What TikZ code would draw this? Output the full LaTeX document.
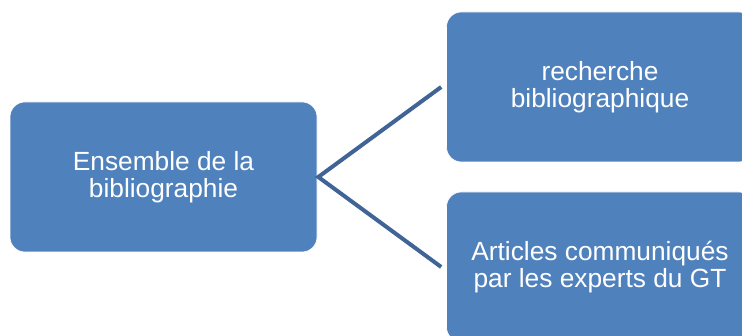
\documentclass[tikz,border=0pt]{standalone}
\usepackage{fontspec}
\setmainfont{Liberation Sans}
\definecolor{boxblue}{RGB}{79,129,189}
\definecolor{linkblue}{RGB}{64,100,150}
\begin{document}
\begin{tikzpicture}[x=1pt,y=1pt,
  box/.style={rectangle, rounded corners=15pt, fill=boxblue, draw=white, line width=0.6pt,
    minimum width=307pt, minimum height=150pt, text=white, align=center,
    font=\fontsize{26.3}{27}\selectfont, inner sep=0pt},
  link/.style={draw=linkblue, line width=4pt}]
\useasboundingbox (0,0) rectangle (742,336);
\clip (0,0) rectangle (742,336);
\node[box] (root) at (163.5,159) {Ensemble de la\\bibliographie};
\node[box] (top) at (600,249) {recherche\\bibliographique};
\node[box] (bot) at (600,69) {Articles communiqués\\par les experts du GT};
\coordinate (v) at ([xshift=1pt]root.east);
\coordinate (t) at ([xshift=-5pt]top.west);
\coordinate (b) at ([xshift=-5pt]bot.west);
\draw[link] (t) -- (v) -- (b);
\end{tikzpicture}
\end{document}
